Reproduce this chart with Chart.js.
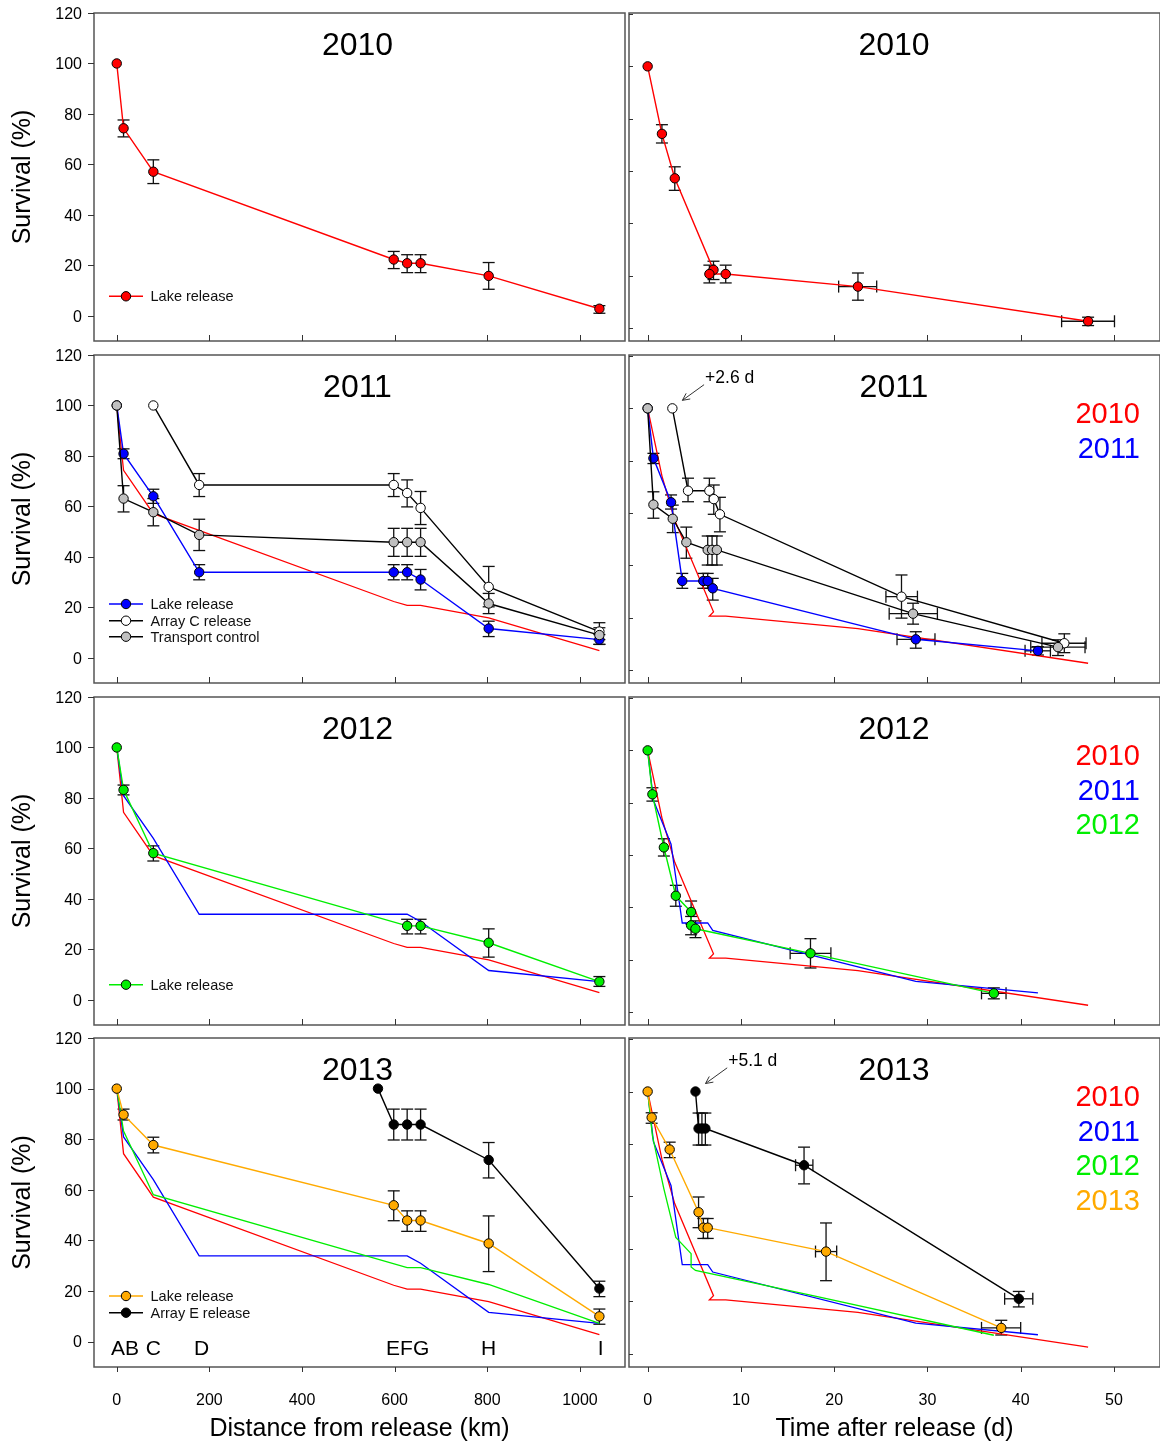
<!DOCTYPE html>
<html><head><meta charset="utf-8">
<script src="https://cdn.jsdelivr.net/npm/chart.js@4.4.1/dist/chart.umd.min.js"></script>
<style>
html,body{margin:0;padding:0;background:#fff;}
#wrap{position:relative;width:1160px;height:1445px;overflow:hidden;}
#wrap canvas{position:absolute;left:0;top:0;}
</style></head><body><div id="wrap"></div>
<script>
// ================= DATA =================
// 2010 lake release, distance
const km2010 = [0, 14.7, 79, 598, 627, 656, 803, 1042];
const survKm2010 = [100, 74.3, 57.1, 22.3, 20.8, 20.8, 15.8, 2.8];
const loKm2010 = [100, 70.9, 52.4, 18.7, 17.1, 17.1, 10.5, 1.0];
const hiKm2010 = [100, 77.6, 61.8, 25.5, 24.2, 24.2, 21.1, 4.0];
// 2010 lake release, time
const day2010 = [0, 1.53, 2.91, 7.06, 6.62, 8.37, 22.55, 47.23];
const survDay2010 = [100, 74.2, 57.2, 22.2, 20.6, 20.6, 15.8, 2.55];
const loDay2010 = [100, 70.7, 52.6, 18.5, 17.2, 17.2, 10.6, 0.9];
const hiDay2010 = [100, 77.7, 61.6, 25.5, 24.0, 24.0, 21.0, 4.1];
const xloDay2010 = [null, null, null, null, null, null, 20.48, 44.39];
const xhiDay2010 = [null, null, null, null, null, null, 24.56, 50.06];

// 2011 lake release
const kmLake2011 = [0, 14.7, 79, 178, 598, 627, 656, 803, 1042];
const survKmLake2011 = [100, 80.9, 64.0, 33.9, 33.9, 33.9, 31.0, 11.6, 7.2];
const loKmLake2011 = [100, 78.9, 61.2, 30.9, 30.9, 30.9, 26.9, 8.4, 5.3];
const hiKmLake2011 = [100, 82.8, 66.8, 36.9, 36.9, 36.9, 35.0, 14.5, 9.2];
const dayLake2011 = [0, 0.62, 2.51, 3.71, 5.97, 6.44, 6.98, 28.75, 41.85];
const survDayLake2011 = [100, 80.9, 64.1, 34.0, 34.0, 34.0, 31.2, 11.7, 7.3];
const loDayLake2011 = [100, 78.9, 61.5, 31.2, 31.2, 31.2, 26.7, 8.3, 5.7];
const hiDayLake2011 = [100, 82.8, 66.9, 36.9, 36.9, 36.9, 35.0, 14.6, 8.9];
const xloDayLake2011 = [null, null, null, null, null, null, null, 26.74, 40.47];
const xhiDayLake2011 = [null, null, null, null, null, null, null, 30.81, 43.19];
// 2011 Array C release
const kmArrC2011 = [79, 178, 598, 627, 656, 803, 1042];
const survKmArrC2011 = [100, 68.5, 68.5, 65.3, 59.4, 28.1, 10.4];
const loKmArrC2011 = [100, 63.9, 63.9, 59.8, 52.8, 20.2, 7.2];
const hiKmArrC2011 = [100, 73.0, 73.0, 70.5, 65.9, 36.2, 13.9];
const dayArrC2011 = [2.65, 4.33, 6.62, 7.09, 7.75, 27.22, 44.68];
const survDayArrC2011 = [100, 68.5, 68.5, 65.3, 59.5, 28.0, 10.2];
const loDayArrC2011 = [100, 64.3, 64.3, 59.5, 52.8, 19.8, 6.6];
const hiDayArrC2011 = [100, 73.3, 73.3, 70.7, 66.0, 36.3, 13.8];
const xloDayArrC2011 = [null, null, null, null, null, 25.55, 42.28];
const xhiDayArrC2011 = [null, null, null, null, null, 28.93, 47.01];
// 2011 transport control
const kmTrans2011 = [0, 14.7, 79, 178, 598, 627, 656, 803, 1042];
const survKmTrans2011 = [100, 63.1, 57.7, 48.7, 45.8, 45.8, 45.8, 21.5, 9.0];
const loKmTrans2011 = [100, 57.8, 52.3, 42.5, 40.2, 40.2, 40.2, 17.5, 5.3];
const hiKmTrans2011 = [100, 68.2, 63.1, 54.9, 51.3, 51.3, 51.3, 25.5, 11.9];
const dayTrans2011 = [0, 0.62, 2.69, 4.15, 6.44, 6.91, 7.42, 28.46, 44.0];
const survDayTrans2011 = [100, 63.2, 57.8, 48.8, 45.9, 45.9, 45.9, 21.5, 8.7];
const loDayTrans2011 = [100, 58.0, 52.5, 42.7, 40.1, 40.1, 40.1, 17.5, 5.5];
const hiDayTrans2011 = [100, 68.1, 63.0, 54.6, 51.2, 51.2, 51.2, 25.5, 11.5];
const xloDayTrans2011 = [null, null, null, null, null, null, null, 25.9, 41.08];
const xhiDayTrans2011 = [null, null, null, null, null, null, null, 31.07, 46.9];

// 2012 lake release
const km2012 = [0, 14.7, 79, 627, 656, 803, 1042];
const survKm2012 = [100, 83.2, 58.1, 29.3, 29.3, 22.6, 7.2];
const loKm2012 = [100, 81.2, 55.0, 26.1, 26.1, 16.9, 5.3];
const hiKm2012 = [100, 85.1, 61.0, 31.9, 31.9, 28.1, 9.2];
const day2012 = [0, 0.51, 1.74, 3.02, 4.66, 4.66, 5.13, 17.46, 37.12];
const survDay2012 = [100, 83.2, 62.9, 44.4, 38.2, 33.1, 31.8, 22.4, 7.1];
const loDay2012 = [100, 80.6, 59.6, 40.4, 33.7, 29.5, 28.4, 16.8, 5.0];
const hiDay2012 = [100, 85.7, 66.2, 48.4, 42.4, 36.5, 34.8, 28.0, 9.2];
const xloDay2012 = [null, null, null, null, null, null, null, 15.28, 35.8];
const xhiDay2012 = [null, null, null, null, null, null, null, 19.65, 38.43];

// 2013 lake release
const kmLake2013 = [0, 14.7, 79, 598, 627, 656, 803, 1042];
const survKmLake2013 = [100, 89.7, 77.7, 53.9, 47.9, 47.9, 38.8, 10.0];
const loKmLake2013 = [100, 87.6, 74.6, 47.8, 43.6, 43.6, 27.7, 6.9];
const hiKmLake2013 = [100, 91.9, 80.8, 59.6, 51.7, 51.7, 49.7, 12.9];
const dayLake2013 = [0, 0.43, 2.36, 5.46, 5.97, 6.44, 19.13, 37.92];
const survDayLake2013 = [100, 90.1, 77.9, 54.0, 48.1, 48.1, 39.0, 9.9];
const loDayLake2013 = [100, 87.9, 74.8, 48.1, 44.0, 44.0, 27.9, 7.2];
const hiDayLake2013 = [100, 91.9, 80.7, 59.8, 51.6, 51.6, 49.9, 12.8];
const xloDayLake2013 = [null, null, null, null, null, null, 18.0, 35.8];
const xhiDayLake2013 = [null, null, null, null, null, null, 20.27, 40.0];
// 2013 Array E release
const kmArrE2013 = [564, 598, 627, 656, 803, 1042];
const survKmArrE2013 = [100, 85.8, 85.8, 85.8, 71.8, 21.0];
const loKmArrE2013 = [100, 79.7, 79.7, 79.7, 64.7, 17.8];
const hiKmArrE2013 = [100, 91.9, 91.9, 91.9, 78.7, 23.9];
const dayArrE2013 = [5.13, 5.46, 5.82, 6.19, 16.77, 39.8];
const survDayArrE2013 = [100, 85.9, 85.9, 85.9, 71.9, 21.0];
const loDayArrE2013 = [100, 79.6, 79.6, 79.6, 64.8, 17.9];
const hiDayArrE2013 = [100, 91.8, 91.8, 91.8, 78.8, 23.8];
const xloDayArrE2013 = [null, null, null, null, 15.86, 38.28];
const xhiDayArrE2013 = [null, null, null, null, 17.72, 41.3];

// tick / label text
const yearLabels = ['2010', '2011', '2012', '2013'];
const arrayLetters = ['AB', 'C', 'D', 'EFG', 'H', 'I'];
const arrayLetterKm = [18, 79, 183, 628, 803, 1045];

// ================= STYLE / LAYOUT =================
const FONT = '"Liberation Sans", Arial, Helvetica, sans-serif';
Chart.defaults.font.family = FONT;
Chart.defaults.color = '#000';
const W = 1160, H = 1445;
const RED = '#ff0000', BLUE = '#0000ff', GREEN = '#00ee00', ORANGE = '#ffaa00', GREY = '#c0c0c0';
const YEARCOL = [RED, BLUE, GREEN, ORANGE];
const rows = [[13, 341], [355, 683], [697, 1025], [1038, 1367]];
const XKM = {min: -49.1, max: 1097.3, step: 200};
const XDAY = {min: -2.0, max: 54.94, step: 10};

function series(x, y, o) {
  return Object.assign({
    data: x.map((v, i) => ({x: v, y: y[i]})),
    showLine: true, tension: 0, borderWidth: 1.4,
    pointRadius: 4.7, pointBorderColor: '#000', pointBorderWidth: 1,
    pointHoverRadius: 4.7
  }, o);
}
function ref(x, y, col) {
  return series(x, y, {borderColor: col, pointRadius: 0, pointHoverRadius: 0, borderWidth: 1.3});
}
function mk(x, y, lo, hi, xlo, xhi, line, fill) {
  return series(x, y, {borderColor: line, pointBackgroundColor: fill, errLo: lo, errHi: hi, xLo: xlo, xHi: xhi});
}

const panels = [
  {row: 0, col: 0, title: '2010', sets: [
    mk(km2010, survKm2010, loKm2010, hiKm2010, null, null, RED, RED)],
    legend: [['Lake release', RED, RED]]},
  {row: 0, col: 1, title: '2010', sets: [
    mk(day2010, survDay2010, loDay2010, hiDay2010, xloDay2010, xhiDay2010, RED, RED)]},
  {row: 1, col: 0, title: '2011', sets: [
    ref(km2010, survKm2010, RED),
    mk(kmLake2011, survKmLake2011, loKmLake2011, hiKmLake2011, null, null, BLUE, BLUE),
    mk(kmArrC2011, survKmArrC2011, loKmArrC2011, hiKmArrC2011, null, null, '#000', '#fff'),
    mk(kmTrans2011, survKmTrans2011, loKmTrans2011, hiKmTrans2011, null, null, '#000', GREY)],
    legend: [['Lake release', BLUE, BLUE], ['Array C release', '#000', '#fff'], ['Transport control', '#000', GREY]]},
  {row: 1, col: 1, title: '2011', years: 2, annot: {text: '+2.6 d', x: dayArrC2011[0], y: survDayArrC2011[0]}, sets: [
    ref(day2010, survDay2010, RED),
    mk(dayLake2011, survDayLake2011, loDayLake2011, hiDayLake2011, xloDayLake2011, xhiDayLake2011, BLUE, BLUE),
    mk(dayArrC2011, survDayArrC2011, loDayArrC2011, hiDayArrC2011, xloDayArrC2011, xhiDayArrC2011, '#000', '#fff'),
    mk(dayTrans2011, survDayTrans2011, loDayTrans2011, hiDayTrans2011, xloDayTrans2011, xhiDayTrans2011, '#000', GREY)]},
  {row: 2, col: 0, title: '2012', sets: [
    ref(km2010, survKm2010, RED),
    ref(kmLake2011, survKmLake2011, BLUE),
    mk(km2012, survKm2012, loKm2012, hiKm2012, null, null, GREEN, GREEN)],
    legend: [['Lake release', GREEN, GREEN]]},
  {row: 2, col: 1, title: '2012', years: 3, sets: [
    ref(day2010, survDay2010, RED),
    ref(dayLake2011, survDayLake2011, BLUE),
    mk(day2012, survDay2012, loDay2012, hiDay2012, xloDay2012, xhiDay2012, GREEN, GREEN)]},
  {row: 3, col: 0, title: '2013', letters: true, sets: [
    ref(km2010, survKm2010, RED),
    ref(kmLake2011, survKmLake2011, BLUE),
    ref(km2012, survKm2012, GREEN),
    mk(kmLake2013, survKmLake2013, loKmLake2013, hiKmLake2013, null, null, ORANGE, ORANGE),
    mk(kmArrE2013, survKmArrE2013, loKmArrE2013, hiKmArrE2013, null, null, '#000', '#000')],
    legend: [['Lake release', ORANGE, ORANGE], ['Array E release', '#000', '#000']]},
  {row: 3, col: 1, title: '2013', years: 4, annot: {text: '+5.1 d', x: dayArrE2013[0], y: survDayArrE2013[0]}, sets: [
    ref(day2010, survDay2010, RED),
    ref(dayLake2011, survDayLake2011, BLUE),
    ref(day2012, survDay2012, GREEN),
    mk(dayLake2013, survDayLake2013, loDayLake2013, hiDayLake2013, xloDayLake2013, xhiDayLake2013, ORANGE, ORANGE),
    mk(dayArrE2013, survDayArrE2013, loDayArrE2013, hiDayArrE2013, xloDayArrE2013, xhiDayArrE2013, '#000', '#000')]}
];
const legendY = [[283.3], [249, 265.7, 281.7], [287.7], [258, 274.7]];

// ================= PLUGIN =================
const decoMap = {};
function seg(ctx, a, b, c, d) { ctx.beginPath(); ctx.moveTo(a, b); ctx.lineTo(c, d); ctx.stroke(); }
function txt(ctx, s, x, yc, size, color, align, k) {
  ctx.font = size + 'px ' + FONT; ctx.fillStyle = color;
  ctx.textAlign = align || 'center'; ctx.textBaseline = 'alphabetic';
  ctx.fillText(s, x, yc + size * (k == null ? 0.36 : k));
}
const deco = {
  id: 'deco',
  beforeDatasetsDraw(chart) {
    const ctx = chart.ctx, xs = chart.scales.x, ys = chart.scales.y;
    ctx.save();
    ctx.strokeStyle = '#111'; ctx.lineWidth = 1.3;
    chart.data.datasets.forEach(ds => {
      if (!ds.errLo) return;
      ds.data.forEach((p, i) => {
        const px = xs.getPixelForValue(p.x), py = ys.getPixelForValue(p.y);
        const lo = ds.errLo[i], hi = ds.errHi[i];
        if (lo != null && hi != null && hi > lo) {
          const a = ys.getPixelForValue(lo), b = ys.getPixelForValue(hi);
          seg(ctx, px, a, px, b); seg(ctx, px - 6, a, px + 6, a); seg(ctx, px - 6, b, px + 6, b);
        }
        if (ds.xLo && ds.xLo[i] != null) {
          const a = xs.getPixelForValue(ds.xLo[i]), b = xs.getPixelForValue(ds.xHi[i]);
          seg(ctx, a, py, b, py); seg(ctx, a, py - 6, a, py + 6); seg(ctx, b, py - 6, b, py + 6);
        }
      });
    });
    ctx.restore();
  },
  afterDraw(chart) {
    const p = decoMap[chart.canvas.id];
    const ctx = chart.ctx, ca = chart.chartArea, xs = chart.scales.x, ys = chart.scales.y;
    const isLeft = p.col === 0, isBottom = p.row === 3;
    ctx.save();
    // frame
    ctx.strokeStyle = '#555'; ctx.lineWidth = 1.5;
    ctx.strokeRect(ca.left, ca.top, ca.right - ca.left, ca.bottom - ca.top);
    // ticks
    ctx.strokeStyle = '#333'; ctx.lineWidth = 1;
    xs.ticks.forEach(t => {
      const px = Math.round(xs.getPixelForValue(t.value)) + 0.5;
      if (isBottom) seg(ctx, px, ca.bottom, px, ca.bottom + 5);
      else seg(ctx, px, ca.bottom, px, ca.bottom - 6);
    });
    ys.ticks.forEach(t => {
      const py = Math.round(ys.getPixelForValue(t.value)) + 0.5;
      if (isLeft) {
        seg(ctx, ca.left - 6, py, ca.left, py);
        txt(ctx, String(t.value), ca.left - 12, ys.getPixelForValue(t.value), 16, '#000', 'right');
      } else seg(ctx, ca.left, py, ca.left + 4, py);
    });
    // title
    const cx = (ca.left + ca.right) / 2 - (isLeft ? 2 : 0.5);
    txt(ctx, p.title, cx, ca.top + 30.5, 32, '#000');
    // year colour legend
    if (p.years) {
      for (let i = 0; i < p.years; i++) txt(ctx, yearLabels[i], 1140, ca.top + 58 + i * 34.5, 29, YEARCOL[i], 'right');
    }
    // series legend
    if (p.legend) {
      p.legend.forEach((l, i) => {
        const yc = ca.top + legendY[p.row][i];
        ctx.strokeStyle = l[1]; ctx.lineWidth = 1.4; seg(ctx, 109, yc, 143, yc);
        ctx.beginPath(); ctx.arc(126, yc, 4.7, 0, Math.PI * 2);
        ctx.fillStyle = l[2]; ctx.fill(); ctx.strokeStyle = '#000'; ctx.lineWidth = 1; ctx.stroke();
        txt(ctx, l[0], 150.5, yc, 14.5, '#111', 'left', 0.35);
      });
    }
    // array letters
    if (p.letters) {
      arrayLetters.forEach((s, i) => txt(ctx, s, xs.getPixelForValue(arrayLetterKm[i]), ca.top + 309.3, 21, '#000'));
    }
    // annotation arrow
    if (p.annot) {
      const tx = xs.getPixelForValue(p.annot.x) + 10, ty = ys.getPixelForValue(p.annot.y) - 8;
      const sx = tx + 21.7, sy = ty - 15.7;
      ctx.strokeStyle = '#333'; ctx.lineWidth = 1; seg(ctx, sx, sy, tx, ty);
      const ang = Math.atan2(ty - sy, tx - sx);
      [0.45, -0.45].forEach(d => seg(ctx, tx, ty, tx - 8 * Math.cos(ang + d), ty - 8 * Math.sin(ang + d)));
      txt(ctx, p.annot.text, sx + 1, sy - 8.3, 17.5, '#000', 'left');
    }
    ctx.restore();
  }
};

// ================= BUILD =================
const wrap = document.getElementById('wrap');
panels.forEach((p, idx) => {
  const c = document.createElement('canvas');
  c.width = W; c.height = H; c.style.width = W + 'px'; c.style.height = H + 'px';
  c.id = 'panel' + idx; wrap.appendChild(c);
  decoMap[c.id] = p;
  const isLeft = p.col === 0, isBottom = p.row === 3;
  const top = rows[p.row][0], bottom = rows[p.row][1];
  const left = isLeft ? 94 : 629, right = isLeft ? 625 : 1160;
  const xr = isLeft ? XKM : XDAY;
  const yr = isLeft ? {min: -10, max: 120} : {min: -5, max: 120.4};
  const n = p.sets.length;
  p.sets.forEach((s, i) => { s.order = n - i; });
  new Chart(c, {
    type: 'scatter',
    data: {datasets: p.sets},
    options: {
      responsive: false, animation: false, devicePixelRatio: 1, events: [],
      layout: {autoPadding: false, padding: {left: 0, top: top, right: W - right, bottom: 0}},
      plugins: {legend: {display: false}, tooltip: {enabled: false}},
      scales: {
        x: {type: 'linear', position: 'bottom', min: xr.min, max: xr.max,
          grid: {display: false}, border: {display: false},
          ticks: {display: isBottom, stepSize: xr.step, includeBounds: false, autoSkip: false, maxRotation: 0,
                  format: {useGrouping: false}, font: {size: 16}, color: '#000', padding: 16},
          title: {display: isBottom, text: isLeft ? 'Distance from release (km)' : 'Time after release (d)',
                  font: {size: 25}, color: '#000', padding: {top: 0, bottom: 1}},
          afterFit: s => { s.height = H - bottom; }},
        y: {type: 'linear', position: 'left', min: yr.min, max: yr.max,
          grid: {display: false}, border: {display: false},
          ticks: {display: false, stepSize: 20, includeBounds: false},
          title: {display: isLeft, text: 'Survival (%)', font: {size: 25}, color: '#000', padding: {top: 8, bottom: 0}},
          afterFit: s => { s.width = left; }}
      }
    },
    plugins: [deco]
  });
});
</script></body></html>
